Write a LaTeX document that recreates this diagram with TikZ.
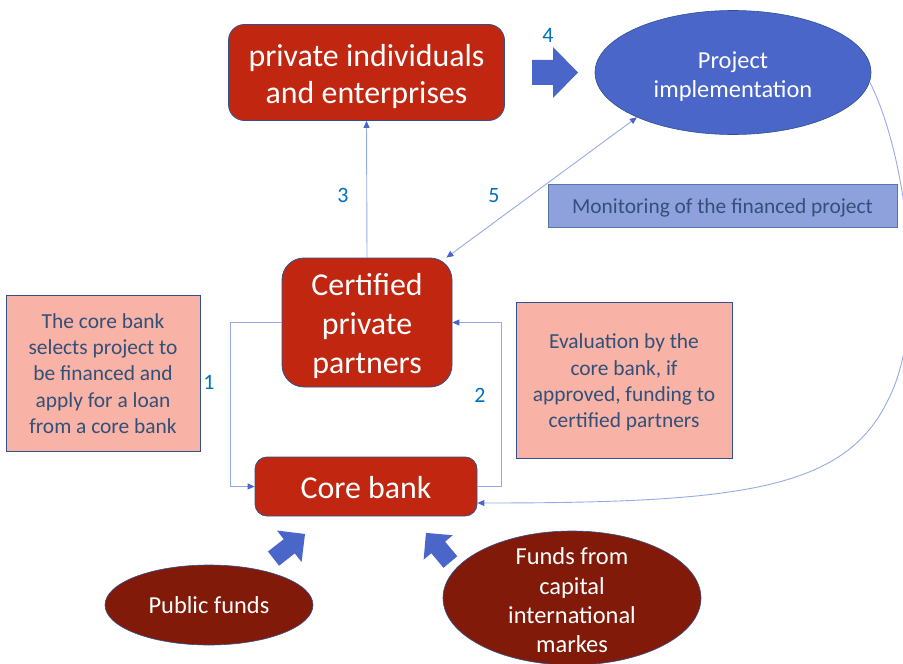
\documentclass[tikz,border=0pt]{standalone}
\usepackage{fontspec}
\setmainfont{Carlito}
\usetikzlibrary{arrows.meta,shapes.geometric}
\definecolor{boxred}{RGB}{192,38,16}
\definecolor{darkred}{RGB}{130,26,10}
\definecolor{projblue}{RGB}{74,102,200}
\definecolor{monblue}{RGB}{143,161,221}
\definecolor{salmon}{RGB}{248,178,166}
\definecolor{outline}{RGB}{47,82,143}
\definecolor{txtblue}{RGB}{50,80,120}
\definecolor{linkblue}{RGB}{150,170,230}
\definecolor{numblue}{RGB}{0,112,192}
\tikzset{
  redbox/.style={draw=outline, line width=0.8bp, fill=boxred, inner sep=0pt},
  redtext/.style={text=white, font=\fontsize{32}{38}\selectfont, align=center, inner sep=0pt},
  notebox/.style={draw=outline, line width=0.8bp, fill=salmon, text=txtblue,
    font=\fontsize{21.5}{26.3}\selectfont, align=center, inner sep=0pt},
  monbox/.style={draw=outline!80, line width=0.8bp, fill=monblue, text=txtblue,
    font=\fontsize{21.5}{26}\selectfont, align=center, inner sep=0pt},
  projell/.style={ellipse, draw=outline, line width=0.6bp, fill=projblue, inner sep=0pt},
  projtext/.style={text=white, font=\fontsize{24.5}{29.5}\selectfont, align=center, inner sep=0pt},
  darkell/.style={ellipse, draw=outline, line width=0.6bp, fill=darkred, inner sep=0pt},
  elltext/.style={text=white, font=\fontsize{24.5}{29.4}\selectfont, align=center, inner sep=0pt},
  num/.style={text=numblue, font=\fontsize{22}{26}\selectfont, inner sep=0pt},
  tipa/.tip={Triangle[width=6bp,length=7bp,color=projblue,fill=projblue]},
  link/.style={draw=linkblue, line width=0.9bp, -tipa},
  biglink/.style={draw=linkblue, line width=0.9bp, tipa-tipa},
  pics/blockarrow/.style args={#1/#2/#3/#4}{code={
    \fill[projblue] (0,-#4) -- (#1-#2,-#4) -- (#1-#2,-#3) -- (#1,0)
      -- (#1-#2,#3) -- (#1-#2,#4) -- (0,#4) -- cycle;}}
}
\begin{document}
\begin{tikzpicture}[x=1bp,y=-1bp]
\useasboundingbox (0,0) rectangle (903,664);
% main boxes
\node[redbox, rounded corners=16bp, minimum width=276bp, minimum height=96bp] (priv) at (366.5,72.5) {};
\node[redtext] (privtext) at ([yshift=-4bp]priv.center) {private individuals\\and enterprises};
\node[redbox, rounded corners=22bp, minimum width=170bp, minimum height=129bp] (cert) at (367,322.5) {};
\node[redtext, font=\fontsize{32}{39.5}\selectfont] (certtext) at ([yshift=-3.5bp]cert.center) {Certified\\private\\partners};
\node[redbox, rounded corners=12bp, minimum width=222bp, minimum height=59bp] (core) at (366,486.5) {};
\node[redtext] (coretext) at ([yshift=-1bp]core.center) {Core bank};
\node[projell, minimum width=276bp, minimum height=124bp] (proj) at (733,72.5) {};
\node[projtext] (projtxt) at ([yshift=-4bp]proj.center) {Project\\implementation};
\node[monbox, minimum width=349bp, minimum height=43bp] (mon) at (722.5,205.5) {};
\node[monbox, draw=none, fill=none] (montext) at ([yshift=-2.5bp]mon.center) {Monitoring of the financed project};
\node[notebox, minimum width=194bp, minimum height=156bp] (lbox) at (103,373.5) {The core bank\\selects project to\\be financed and\\apply for a loan\\from a core bank};
\node[notebox, minimum width=216bp, minimum height=156bp] (rbox) at (624,380) {};
\node[notebox, draw=none, fill=none] (rtext) at ([yshift=-2.5bp]rbox.center) {Evaluation by the\\core bank, if\\approved, funding to\\certified partners};
\node[darkell, minimum width=208bp, minimum height=80bp] (pub) at (209,605) {};
\node[elltext] (pubtext) at (pub.center) {Public funds};
\node[darkell, minimum width=258bp, minimum height=134bp] (cap) at (572,598) {};
\node[elltext] (captext) at ([yshift=-2.5bp]cap.center) {Funds from\\capital\\international\\markes};
% numbers
\node[num] (n1) at (209,382) {1};
\node[num] (n2) at (480,395) {2};
\node[num] (n3) at (343,195) {3};
\node[num] (n4) at (548,35) {4};
\node[num] (n5) at (494,196) {5};
% connectors
\draw[link] (cert.west) -- ++(-51,0) |- (core.west);
\draw[link] (core.east) -- ++(24,0) |- (cert.east);
\draw[link] (cert.north) -- (priv.south);
\draw[biglink] ([xshift=-6bp]cert.north east) -- (proj.205);
\draw[link] (proj.-4) .. controls (905,150) and (930,320) .. (888,400)
  .. controls (845,490) and (740,503) .. ([yshift=-16.5bp]core.east);
% block arrows
\pic at (532,72.5) {blockarrow=46/25/25.5/12.5};
\pic[rotate=38] at (273.5,558.6) {blockarrow=40/20/20/9};
\pic[rotate=130] at (450.4,562) {blockarrow=38/19/19/9};
\end{tikzpicture}
\end{document}
